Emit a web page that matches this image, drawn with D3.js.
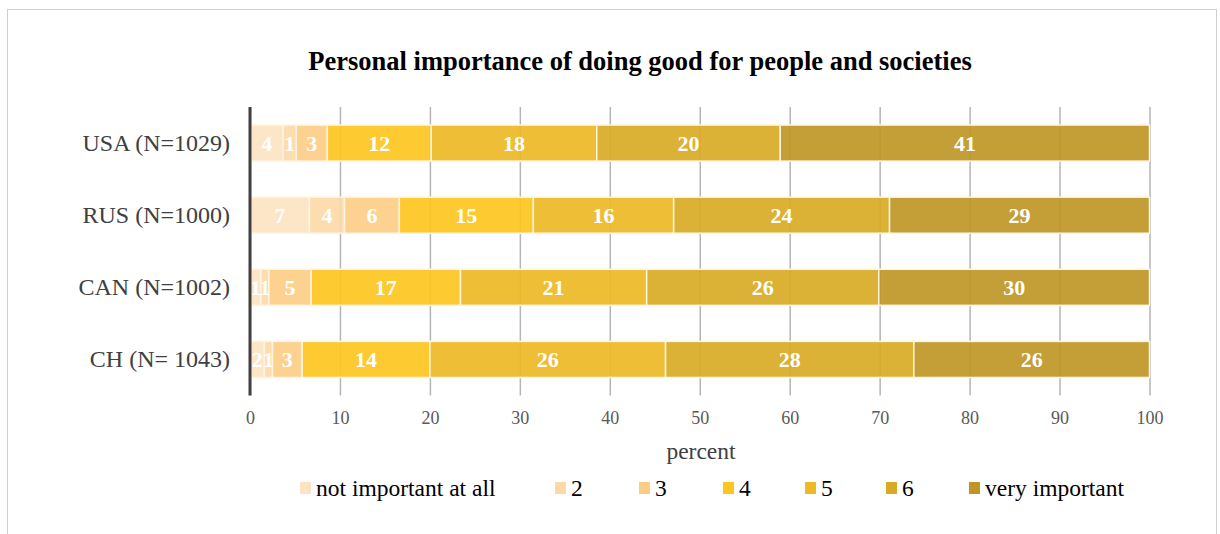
<!DOCTYPE html>
<html>
<head>
<meta charset="utf-8">
<script src="https://cdn.jsdelivr.net/npm/d3@7"></script>
<style>
  html, body { margin: 0; padding: 0; background: #fff; }
  svg { display: block; }
</style>
</head>
<body>
<svg id="chart" width="1220" height="534"></svg>
<script>
// Survey answers per country, share of respondents (percent) for each answer level
const countries = ["USA (N=1029)", "RUS (N=1000)", "CAN (N=1002)", "CH (N= 1043)"];
const levels = ["not important at all", "2", "3", "4", "5", "6", "very important"];
const usa = [3.7, 1.45, 3.45, 11.55, 18.4, 20.4, 41.05];
const rus = [6.6, 3.9, 6.1, 14.9, 15.6, 24.0, 28.9];
const can = [1.2, 0.9, 4.7, 16.6, 20.7, 25.8, 30.1];
const ch  = [1.6, 0.9, 3.3, 14.2, 26.2, 27.6, 26.2];
const xTicks = [0, 10, 20, 30, 40, 50, 60, 70, 80, 90, 100];
const colors = ["#FDE3C3", "#FDD9A8", "#FDCD85", "#FDC521", "#EDBA25", "#D8AA25", "#BF9626"];

const rows = [usa, rus, can, ch];
const svg = d3.select("#chart");
const serif = "'Liberation Serif', 'Times New Roman', serif";

// outer frame
svg.append("rect")
  .attr("x", 7.5).attr("y", 9.5)
  .attr("width", 1209).attr("height", 560)
  .attr("fill", "none").attr("stroke", "#cfcfcf").attr("stroke-width", 1);

const x = d3.scaleLinear().domain([0, 100]).range([250, 1149.5]);
const y = d3.scaleBand().domain(countries).range([107, 395.5]).paddingInner(0.5).paddingOuter(0.25);

// title
svg.append("text")
  .attr("x", 640).attr("y", 70)
  .attr("text-anchor", "middle")
  .attr("font-family", serif).attr("font-weight", "bold").attr("font-size", 26.5)
  .attr("fill", "#000")
  .text("Personal importance of doing good for people and societies");

// vertical grid lines with tick labels
const xAxis = d3.axisBottom(x).tickValues(xTicks).tickSize(-(395.5 - 107)).tickPadding(16).tickFormat(d3.format("d"));
const gx = svg.append("g").attr("transform", "translate(0,395.5)").call(xAxis);
gx.select(".domain").remove();
gx.selectAll(".tick line").attr("stroke", "#b5b5b5").attr("stroke-width", 1.5);
gx.selectAll(".tick text")
  .attr("font-family", serif).attr("font-size", 18).attr("fill", "#595959");

// stacked bars
const stackData = countries.map((c, i) => {
  const o = { country: c };
  levels.forEach((l, j) => { o[l] = rows[i][j]; });
  return o;
});
const series = d3.stack().keys(levels)(stackData);

const fmt = v => d3.format(".0f")(v);

const layer = svg.append("g").selectAll("g")
  .data(series).join("g")
  .attr("fill", (d, i) => colors[i]);

layer.selectAll("rect")
  .data(d => d)
  .join("rect")
  .attr("x", d => x(d[0]))
  .attr("width", d => x(d[1]) - x(d[0]))
  .attr("y", d => y(d.data.country))
  .attr("height", y.bandwidth())
  .attr("fill-opacity", 0.92)
  .attr("stroke", "#fff4e0").attr("stroke-width", 1.5);

layer.selectAll("text")
  .data(d => d)
  .join("text")
  .attr("x", d => (x(d[0]) + x(d[1])) / 2)
  .attr("y", d => y(d.data.country) + y.bandwidth() / 2)
  .attr("dy", "0.35em")
  .attr("text-anchor", "middle")
  .attr("font-family", serif).attr("font-weight", "bold").attr("font-size", 22)
  .attr("fill", "#fff")
  .text(d => fmt(d[1] - d[0]));

// category axis
const yAxis = d3.axisLeft(y).tickSize(0).tickPadding(20);
const gy = svg.append("g").attr("transform", "translate(250,0)").call(yAxis);
gy.select(".domain").remove();
gy.selectAll(".tick text")
  .attr("font-family", serif).attr("font-size", 24).attr("fill", "#404040");
svg.append("line")
  .attr("x1", 250).attr("x2", 250).attr("y1", 107).attr("y2", 395.5)
  .attr("stroke", "#404040").attr("stroke-width", 3);

// axis title
svg.append("text")
  .attr("x", 701).attr("y", 459)
  .attr("text-anchor", "middle")
  .attr("font-family", serif).attr("font-size", 23.5).attr("fill", "#404040")
  .text("percent");

// legend
const legendX = [300, 555, 639, 723, 805, 886, 969];
const lg = svg.append("g").selectAll("g")
  .data(levels).join("g")
  .attr("transform", (d, i) => `translate(${legendX[i]},488)`);
lg.append("rect")
  .attr("x", 0).attr("y", -6).attr("width", 11).attr("height", 12)
  .attr("fill", (d, i) => colors[i]);
lg.append("text")
  .attr("x", 16).attr("dy", "0.35em")
  .attr("font-family", serif).attr("font-size", 23.5).attr("fill", "#000")
  .text(d => d);
</script>
</body>
</html>
